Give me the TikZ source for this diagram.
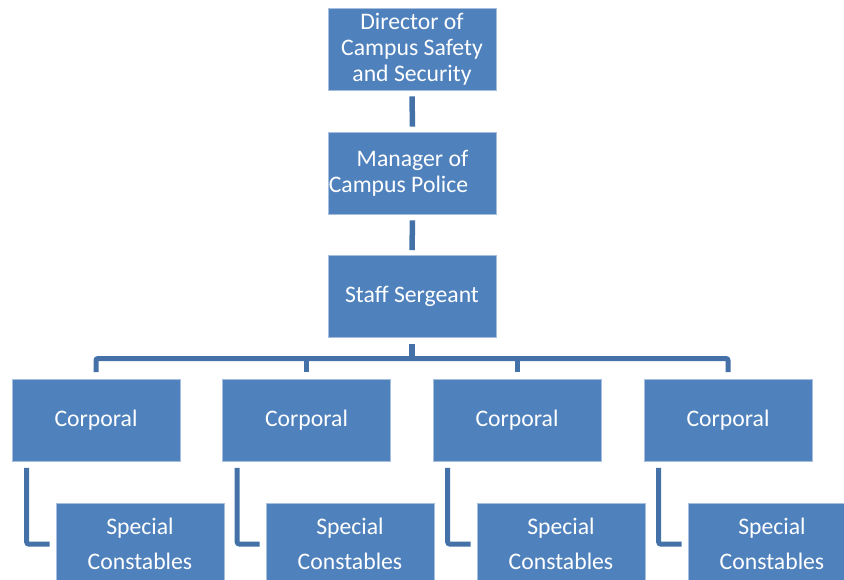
\documentclass[tikz,border=0pt]{standalone}
\usepackage{fontspec}
\setmainfont{Carlito}
\definecolor{boxblue}{HTML}{4F81BD}
\definecolor{boxedge}{HTML}{A7BFDE}
\definecolor{linkblue}{HTML}{4471A8}
\begin{document}
\begin{tikzpicture}[x=1pt,y=-1pt,
  orgbox/.style={fill=boxblue,draw=boxedge,line width=0.6pt,minimum width=168pt,minimum height=82pt,inner sep=0pt,
    text=white,align=center,font=\fontsize{23.7}{26}\selectfont},
  tallbox/.style={orgbox,font=\fontsize{23.7}{35}\selectfont},
  conn/.style={draw=linkblue,line width=5.5pt},
  elbow/.style={draw=linkblue,line width=5pt,rounded corners=2pt}]
\useasboundingbox (0,0) rectangle (844,579);
\clip (0,0) rectangle (844,579);
\node[orgbox] (dir) at (412,49) {Director of\\Campus Safety\\and Security};
\node[orgbox] (mgr) at (412.5,173) {Manager of\\Campus Police\hbox to 28pt{}};
\node[orgbox] (ss) at (412,296.5) {Staff Sergeant};
\node[orgbox] (c1) at (96,420.5) {Corporal};
\node[orgbox] (c2) at (306.5,420.5) {Corporal};
\node[orgbox] (c3) at (517,420.5) {Corporal};
\node[orgbox] (c4) at (728,420.5) {Corporal};
\node[tallbox] (s1) at (140,544) {Special\\Constables};
\node[tallbox] (s2) at (350,544) {Special\\Constables};
\node[tallbox] (s3) at (561,544) {Special\\Constables};
\node[tallbox] (s4) at (772,544) {Special\\Constables};
\coordinate (bar) at (412,358.5);
\draw[conn] ([yshift=-6pt]dir.south) -- ([yshift=5pt]mgr.north);
\draw[conn] ([yshift=-6pt]mgr.south) -- ([yshift=5pt]ss.north);
\draw[conn] ([yshift=-6pt]ss.south) -- (ss.south |- bar);
\draw[elbow] ([yshift=7pt]c1.north) -- (c1.north |- bar) -- (c4.north |- bar) -- ([yshift=7pt]c4.north);
\draw[elbow] (c2.north |- bar) -- ([yshift=7pt]c2.north);
\draw[elbow] (c3.north |- bar) -- ([yshift=7pt]c3.north);
\foreach \i in {1,2,3,4}{
  \draw[elbow] ([xshift=15pt,yshift=-6pt]c\i.south west) |- ([xshift=-6pt]s\i.west);
}
\end{tikzpicture}
\end{document}
